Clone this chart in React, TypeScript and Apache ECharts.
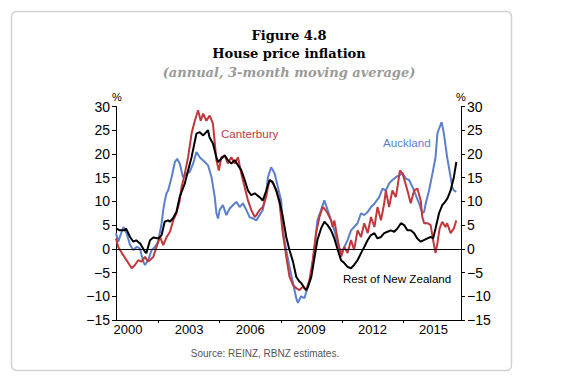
import React, { useEffect, useRef } from "react";
import * as echarts from "echarts";

const yearLabels = [2000, 2003, 2006, 2009, 2012, 2015];
const yearTicks = [2001.5, 2004.5, 2007.5, 2010.5, 2013.5];
const yTicks = [30, 25, 20, 15, 10, 5, 0, -5, -10, -15];

const restOfNZ: [number, number][] = [
  [1999.41,4.3],[1999.6,3.9],[1999.85,3.9],[1999.9,4.3],[2000.1,2.5],[2000.26,1.5],[2000.4,1.8],[2000.6,1.1],[2000.83,-0.6],[2000.9,-0.9],[2001.08,1.8],[2001.24,2.4],[2001.5,2.2],[2001.65,2.9],[2001.8,5.7],[2001.97,6.0],[2002.05,5.7],[2002.2,6.4],[2002.38,7.8],[2002.54,11.0],[2002.79,13.8],[2002.95,16.5],[2003.12,19.3],[2003.36,24.3],[2003.52,24.6],[2003.69,23.9],[2003.93,25.0],[2004.0,23.5],[2004.17,22.2],[2004.34,19.3],[2004.42,18.3],[2004.58,19.0],[2004.75,19.7],[2004.9,18.7],[2005.07,18.0],[2005.24,18.7],[2005.4,17.6],[2005.56,16.6],[2005.73,14.5],[2005.89,12.3],[2006.05,11.3],[2006.22,11.7],[2006.46,10.9],[2006.62,10.2],[2006.79,12.3],[2006.95,14.5],[2007.1,14.1],[2007.28,12.3],[2007.44,10.0],[2007.6,6.8],[2007.77,2.5],[2007.93,-0.3],[2008.1,-2.7],[2008.26,-5.9],[2008.42,-6.9],[2008.5,-7.2],[2008.66,-8.2],[2008.75,-8.7],[2008.83,-8.1],[2009.0,-5.9],[2009.15,-2.0],[2009.3,1.85],[2009.48,4.3],[2009.64,5.7],[2009.8,5.0],[2009.97,3.9],[2010.13,2.2],[2010.3,-0.25],[2010.46,-2.4],[2010.62,-3.0],[2010.78,-3.8],[2010.95,-4.1],[2011.1,-3.4],[2011.27,-2.4],[2011.44,-0.9],[2011.6,0.4],[2011.77,1.85],[2011.93,2.9],[2012.1,3.3],[2012.25,2.2],[2012.42,2.5],[2012.58,3.3],[2012.74,3.6],[2012.9,3.9],[2013.07,3.6],[2013.23,4.3],[2013.4,5.4],[2013.56,5.0],[2013.72,3.9],[2013.88,3.9],[2014.05,3.3],[2014.2,2.2],[2014.37,1.5],[2014.53,1.85],[2014.7,2.2],[2014.86,2.5],[2014.98,2.2],[2015.1,4.3],[2015.27,7.5],[2015.43,9.2],[2015.55,9.8],[2015.68,10.6],[2015.84,12.3],[2016.0,15.1],[2016.12,18.3]
];

const auckland: [number, number][] = [
  [1999.41,3.3],[1999.52,1.5],[1999.77,4.6],[1999.93,3.3],[2000.1,0.8],[2000.26,-0.25],[2000.42,0.4],[2000.58,0.1],[2000.75,-2.7],[2000.83,-3.4],[2000.99,-2.4],[2001.16,-0.25],[2001.32,0.4],[2001.48,1.5],[2001.65,5.4],[2001.73,8.2],[2001.81,10.2],[2001.89,11.7],[2001.97,12.3],[2002.14,15.1],[2002.3,18.3],[2002.41,19.0],[2002.54,18.0],[2002.7,15.1],[2002.87,15.9],[2003.03,16.2],[2003.2,18.0],[2003.36,20.4],[2003.52,19.3],[2003.77,18.3],[2003.93,17.6],[2004.1,15.1],[2004.26,10.9],[2004.34,7.5],[2004.42,6.4],[2004.5,8.2],[2004.66,9.2],[2004.83,7.1],[2004.99,8.5],[2005.15,9.2],[2005.32,9.9],[2005.48,8.8],[2005.64,9.6],[2005.81,8.2],[2005.97,6.7],[2006.13,6.4],[2006.3,6.0],[2006.46,7.1],[2006.62,8.2],[2006.79,12.0],[2006.87,15.1],[2007.03,17.2],[2007.2,15.9],[2007.36,13.0],[2007.52,10.2],[2007.6,3.9],[2007.77,-0.25],[2007.93,-3.8],[2008.1,-7.2],[2008.26,-10.4],[2008.34,-11.4],[2008.5,-10.0],[2008.66,-10.4],[2008.83,-8.0],[2009.0,-5.1],[2009.15,-0.25],[2009.3,6.0],[2009.48,8.2],[2009.64,10.2],[2009.8,8.2],[2009.97,6.0],[2010.13,3.9],[2010.3,1.1],[2010.46,-0.9],[2010.62,0.4],[2010.78,1.85],[2010.95,3.9],[2011.1,4.6],[2011.27,5.4],[2011.44,7.5],[2011.6,7.1],[2011.77,7.8],[2011.93,8.8],[2012.1,9.5],[2012.33,10.9],[2012.5,12.7],[2012.66,12.3],[2012.82,13.8],[2012.98,14.5],[2013.15,15.1],[2013.31,15.5],[2013.48,15.9],[2013.64,14.8],[2013.8,14.5],[2013.97,13.0],[2014.13,11.3],[2014.29,9.6],[2014.45,7.5],[2014.54,7.8],[2014.62,9.6],[2014.78,12.3],[2014.95,15.9],[2015.1,19.3],[2015.19,24.3],[2015.27,25.3],[2015.4,26.7],[2015.51,24.3],[2015.67,19.3],[2015.84,15.1],[2015.92,13.0],[2016.0,12.3],[2016.12,12.0]
];

const canterbury: [number, number][] = [
  [1999.41,2.2],[1999.52,0.4],[1999.7,-0.9],[1999.93,-2.4],[2000.18,-4.1],[2000.34,-3.4],[2000.5,-2.4],[2000.67,-2.7],[2000.83,-1.7],[2000.99,-2.7],[2001.24,-1.7],[2001.4,0.4],[2001.57,2.5],[2001.73,0.8],[2001.9,2.5],[2002.06,3.6],[2002.22,6.0],[2002.38,7.5],[2002.54,10.2],[2002.63,13.0],[2002.79,15.9],[2002.95,19.3],[2003.12,24.3],[2003.28,27.0],[2003.44,29.2],[2003.57,27.0],[2003.69,28.5],[2003.85,27.0],[2004.01,28.1],[2004.17,26.4],[2004.34,18.7],[2004.46,16.5],[2004.58,19.3],[2004.75,19.7],[2004.9,18.0],[2005.07,19.3],[2005.24,18.0],[2005.4,19.3],[2005.56,15.9],[2005.73,13.0],[2005.89,10.2],[2006.05,8.2],[2006.22,6.7],[2006.3,7.1],[2006.46,8.2],[2006.62,8.8],[2006.79,11.0],[2006.87,13.0],[2006.95,14.5],[2007.12,13.8],[2007.28,12.3],[2007.44,9.6],[2007.6,3.3],[2007.77,-1.7],[2007.93,-5.9],[2008.1,-7.6],[2008.26,-8.3],[2008.42,-8.7],[2008.58,-8.0],[2008.75,-8.7],[2008.91,-6.6],[2009.07,-2.4],[2009.23,3.3],[2009.4,6.7],[2009.56,8.8],[2009.64,8.5],[2009.8,7.5],[2009.97,6.0],[2010.05,4.6],[2010.13,6.0],[2010.3,1.85],[2010.46,-1.7],[2010.62,0.4],[2010.78,-0.9],[2010.95,1.85],[2011.1,-0.25],[2011.27,3.9],[2011.44,2.5],[2011.6,5.4],[2011.77,3.3],[2011.93,6.7],[2012.1,4.6],[2012.25,8.8],[2012.42,6.0],[2012.58,9.6],[2012.66,12.3],[2012.82,8.8],[2012.98,12.3],[2013.15,10.9],[2013.23,13.0],[2013.35,16.5],[2013.48,15.9],[2013.72,12.3],[2013.88,9.6],[2014.05,12.3],[2014.21,12.7],[2014.37,10.2],[2014.45,6.7],[2014.54,5.4],[2014.7,5.4],[2014.86,5.0],[2014.98,1.85],[2015.1,-0.9],[2015.19,1.1],[2015.3,4.3],[2015.43,5.7],[2015.59,4.6],[2015.67,5.4],[2015.84,3.3],[2016.0,4.3],[2016.12,6.0]
];

const BLUE = "#5b7fc9";
const RED = "#c0383c";
const fmtY = (v: number) => String(v).replace("-", "\u2212");

export default function App() {
  const ref = useRef<HTMLDivElement>(null);
  useEffect(() => {
    if (!ref.current) return;
    const chart = echarts.init(ref.current, null, { renderer: "svg" });
    const yAxisBase = {
      type: "value" as const,
      min: -15,
      max: 30,
      interval: 5,
      splitLine: { show: false },
      axisLine: { show: true, lineStyle: { color: "#000", width: 1 } },
      axisTick: { show: true, length: 4, lineStyle: { color: "#000" } },
      axisLabel: {
        color: "#000",
        fontSize: 14,
        fontFamily: "Liberation Sans, Arial, sans-serif",
        formatter: fmtY,
        margin: 6,
      },
    };
    chart.setOption({
      animation: false,
      backgroundColor: "#fff",
      grid: { left: 116, right: 122, top: 106.5, bottom: 59, containLabel: false },
      xAxis: {
        type: "value",
        min: 1999.41,
        max: 2016.35,
        splitLine: { show: false },
        axisLine: { show: true, onZero: false, lineStyle: { color: "#000", width: 1 } },
        axisTick: { show: true, length: 3, customValues: yearTicks, lineStyle: { color: "#000" } },
        axisLabel: {
          customValues: yearLabels,
          color: "#000",
          fontSize: 13,
          fontFamily: "Liberation Sans, Arial, sans-serif",
          margin: 3,
          formatter: (v: number) => String(Math.round(v)),
        },
      },
      yAxis: [
        { ...yAxisBase, position: "left" },
        { ...yAxisBase, position: "right" },
      ],
      series: [
        {
          name: "Auckland",
          type: "line",
          data: auckland,
          showSymbol: false,
          lineStyle: { color: BLUE, width: 2 },
          itemStyle: { color: BLUE },
          markLine: {
            silent: true,
            symbol: "none",
            label: { show: false },
            lineStyle: { color: "#000", width: 1, type: "solid" },
            data: [{ yAxis: 0 }],
          },
        },
        {
          name: "Canterbury",
          type: "line",
          data: canterbury,
          showSymbol: false,
          lineStyle: { color: RED, width: 2 },
          itemStyle: { color: RED },
        },
        {
          name: "Rest of New Zealand",
          type: "line",
          data: restOfNZ,
          showSymbol: false,
          lineStyle: { color: "#000", width: 2 },
          itemStyle: { color: "#000" },
        },
      ],
      graphic: [
        {
          type: "rect",
          shape: { x: 11.5, y: 11.5, width: 500, height: 359, r: 5 },
          style: { fill: "none", stroke: "#d2d2d2", lineWidth: 1.5 },
          silent: true,
        },
        {
          type: "text",
          x: 289, y: 35,
          style: { text: "Figure 4.8", fill: "#000", font: "bold 13px 'DejaVu Serif', serif", textAlign: "center", textVerticalAlign: "middle" },
        },
        {
          type: "text",
          x: 289, y: 53,
          style: { text: "House price inflation", fill: "#000", font: "bold 13px 'DejaVu Serif', serif", textAlign: "center", textVerticalAlign: "middle" },
        },
        {
          type: "text",
          x: 289, y: 72,
          style: { text: "(annual, 3-month moving average)", fill: "#9a9a9a", font: "italic bold 13px 'DejaVu Serif', serif", textAlign: "center", textVerticalAlign: "middle" },
        },
        {
          type: "text",
          x: 117, y: 97,
          style: { text: "%", fill: "#000", font: "11px 'Liberation Sans', Arial, sans-serif", textAlign: "center", textVerticalAlign: "middle" },
        },
        {
          type: "text",
          x: 461, y: 97,
          style: { text: "%", fill: "#000", font: "11px 'Liberation Sans', Arial, sans-serif", textAlign: "center", textVerticalAlign: "middle" },
        },
        {
          type: "text",
          x: 221, y: 133,
          style: { text: "Canterbury", fill: RED, font: "11.6px 'Liberation Sans', Arial, sans-serif", textAlign: "left", textVerticalAlign: "middle" },
        },
        {
          type: "text",
          x: 383, y: 142,
          style: { text: "Auckland", fill: BLUE, font: "11.6px 'Liberation Sans', Arial, sans-serif", textAlign: "left", textVerticalAlign: "middle" },
        },
        {
          type: "text",
          x: 343, y: 278,
          style: { text: "Rest of New Zealand", fill: "#000", font: "11.6px 'Liberation Sans', Arial, sans-serif", textAlign: "left", textVerticalAlign: "middle" },
        },
        {
          type: "text",
          x: 265, y: 353,
          style: { text: "Source: REINZ, RBNZ estimates.", fill: "#555", font: "10px 'Liberation Sans', Arial, sans-serif", textAlign: "center", textVerticalAlign: "middle" },
        },
      ],
    });
    return () => chart.dispose();
  }, []);
  return (
    <div
      ref={ref}
      style={{ position: "absolute", left: 0, top: 0, width: 583, height: 379 }}
    />
  );
}
